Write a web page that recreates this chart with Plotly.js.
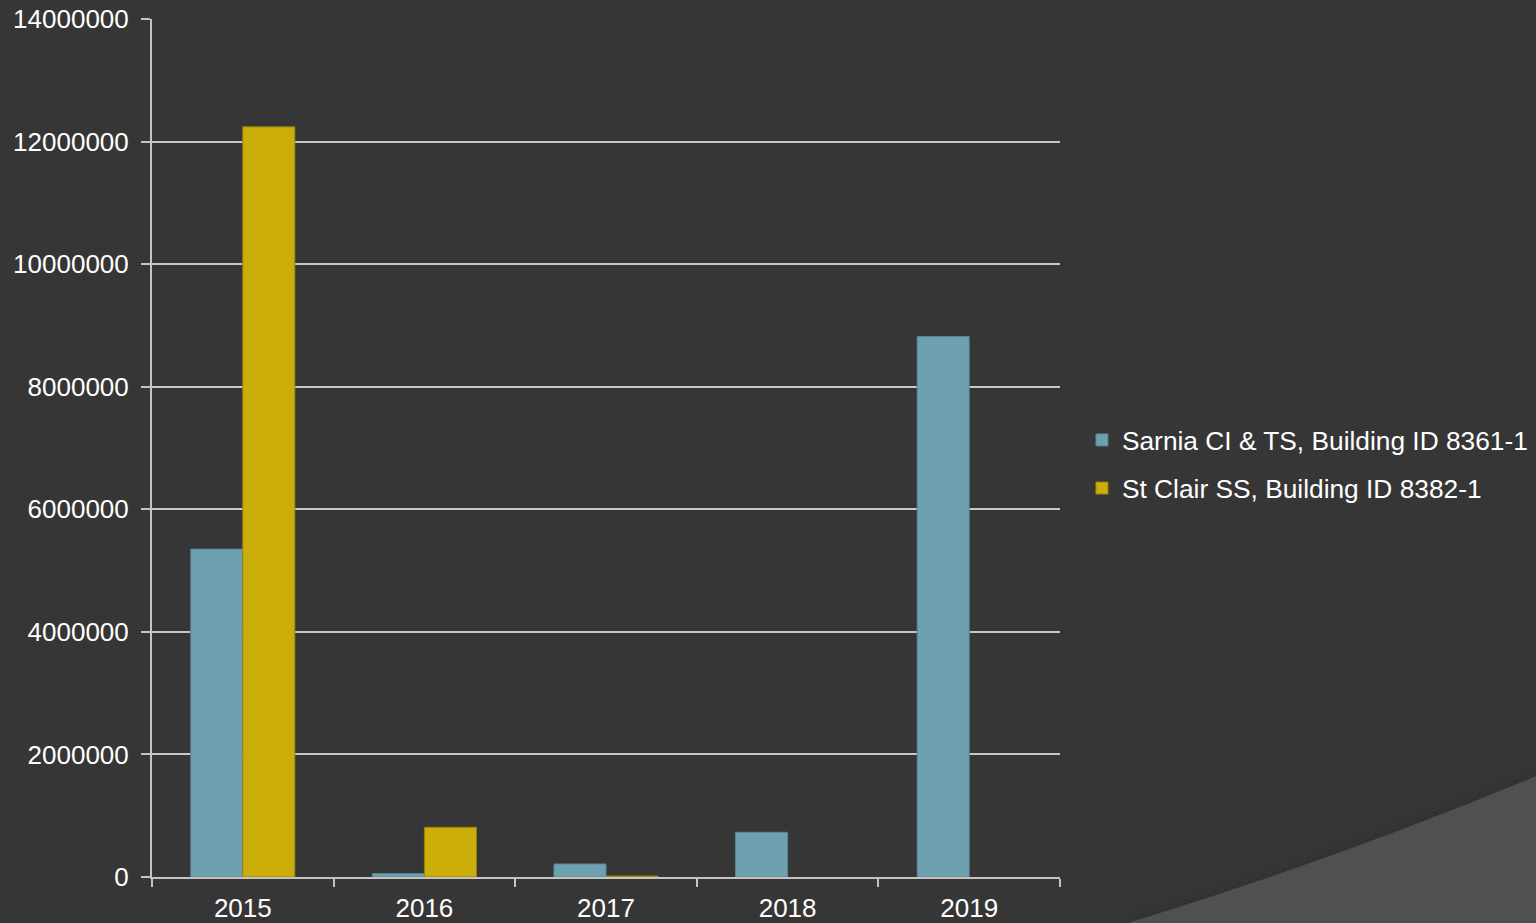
<!DOCTYPE html>
<html>
<head>
<meta charset="utf-8">
<script src="https://cdn.plot.ly/plotly-3.0.1.min.js"></script>
<style>
html,body{margin:0;padding:0;background:#363636;width:1536px;height:923px;overflow:hidden;}
#bg{position:absolute;left:0;top:0;}
#chart{position:absolute;left:0;top:0;width:1536px;height:923px;}
</style>
</head>
<body>
<svg id="bg" width="1536" height="923">
<defs>
<filter id="sh" x="-20%" y="-20%" width="140%" height="140%"><feGaussianBlur stdDeviation="6"/></filter>
</defs>
<rect width="1536" height="923" fill="#363636"/>
<path d="M1128,923 Q1334,860 1536,776 L1536,923 Z" fill="#2a2a2a" filter="url(#sh)" opacity="0.7"/>
<path d="M1128,923 Q1334,860 1536,776 L1536,923 Z" fill="#505050"/>
</svg>
<div id="chart"></div>
<script>
const years = ["2015", "2016", "2017", "2018", "2019"];
const sarnia = [5350000, 55000, 212000, 729000, 8820000];
const stclair = [12240000, 811000, 15000, null, null];
const seriesNames = ["Sarnia CI & TS, Building ID 8361-1", "St Clair SS, Building ID 8382-1"];
const yTicks = [0, 2000000, 4000000, 6000000, 8000000, 10000000, 12000000, 14000000];

const font = {family: "Liberation Sans, Arial, sans-serif", size: 26, color: "#ffffff"};

const data = [
  {type: "bar", x: years, y: sarnia, name: seriesNames[0], legendgroup: "a",
   marker: {color: "#6fa0b0", line: {color: "#5a8595", width: 1}}},
  {type: "bar", x: years, y: stclair, name: seriesNames[1], legendgroup: "b",
   marker: {color: "#cbae0a", line: {color: "#9a850c", width: 1}}}
];

const layout = {
  width: 1536, height: 923,
  paper_bgcolor: "rgba(0,0,0,0)", plot_bgcolor: "rgba(0,0,0,0)",
  margin: {l: 152, r: 476, t: 19, b: 46, pad: 0, autoexpand: false},
  barmode: "group", bargap: 0.427, bargroupgap: 0,
  font: font,
  showlegend: true,
  legend: {xref: "container", x: 0.7044, xanchor: "left", y: 0.481, yanchor: "middle",
           font: {family: font.family, size: 26.3, color: "#ffffff"},
           bgcolor: "rgba(0,0,0,0)", itemwidth: 30, traceorder: "grouped", tracegroupgap: 11},
  xaxis: {type: "category", showgrid: false, showline: true, linecolor: "#c4c4c4", linewidth: 2,
          ticks: "outside", tickson: "boundaries", ticklen: 8, tickcolor: "#c4c4c4", tickwidth: 2,
          tickfont: font, ticklabelstandoff: 7, zeroline: false, fixedrange: true},
  yaxis: {range: [0, 14000000], tickvals: yTicks, ticktext: yTicks.map(String),
          showgrid: true, gridcolor: "#c8c8c8", gridwidth: 2,
          showline: true, linecolor: "#c4c4c4", linewidth: 2,
          ticks: "outside", ticklen: 9, tickcolor: "#c4c4c4", tickwidth: 2,
          tickfont: font, ticklabelstandoff: 7, zeroline: false, fixedrange: true}
};

Plotly.newPlot("chart", data, layout, {displayModeBar: false, staticPlot: true});
</script>
</body>
</html>
